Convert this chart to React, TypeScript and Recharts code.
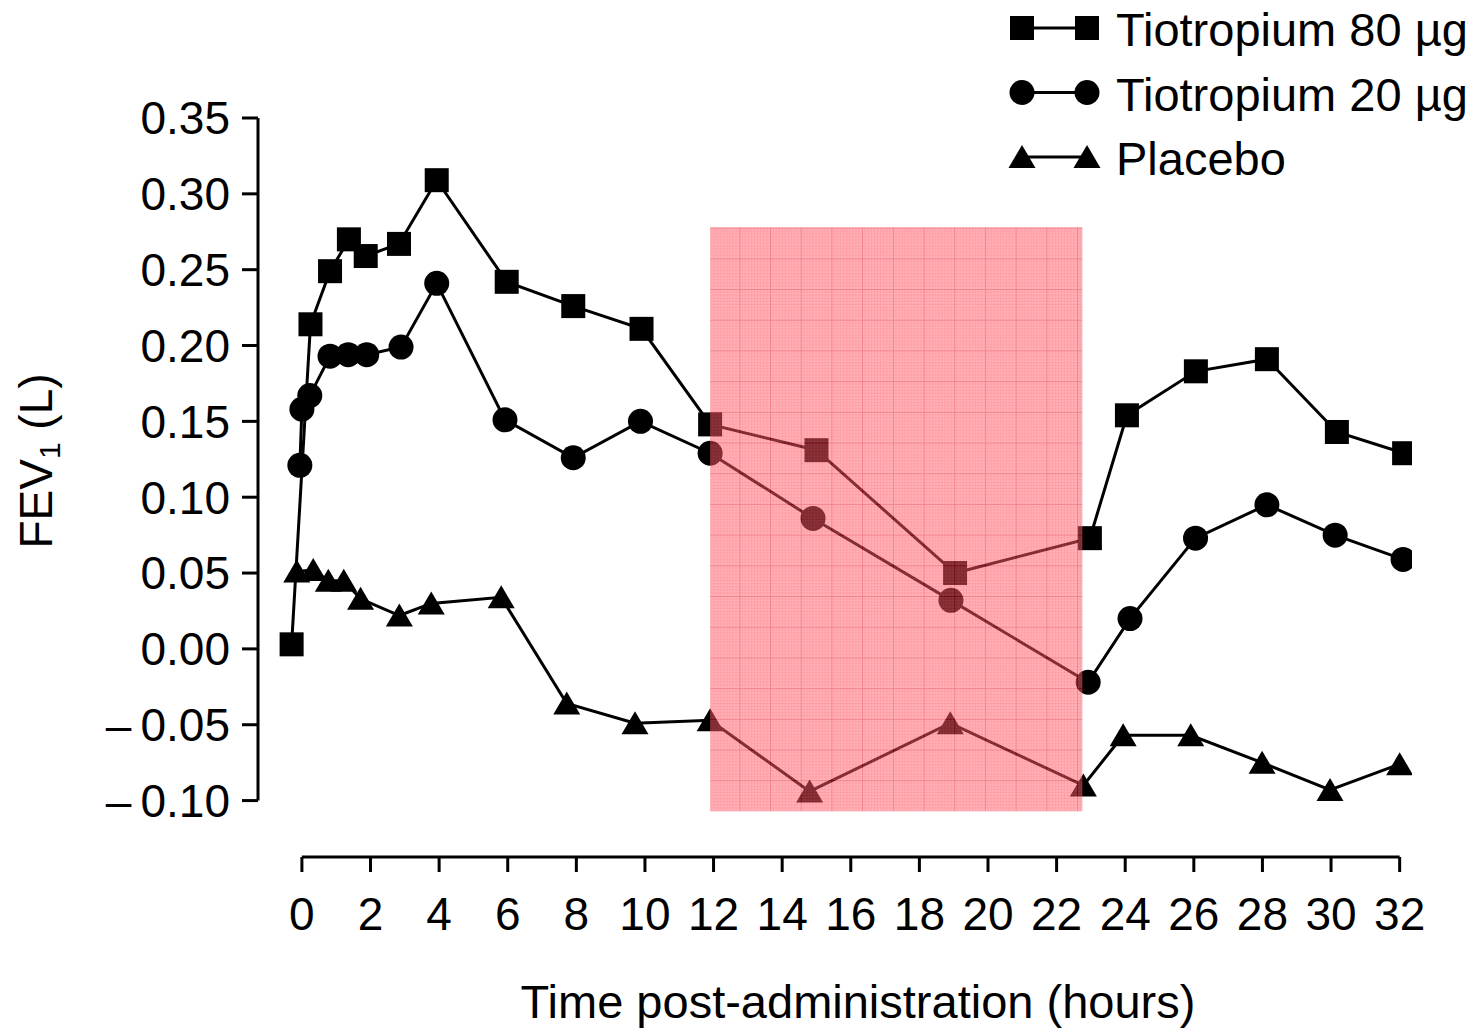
import { Legend, Line, LineChart, ReferenceArea, ReferenceLine, XAxis, YAxis } from "recharts"

// Hours after dosing and FEV1 change (L)
const hours80 = [-0.3, 0.25, 0.82, 1.37, 1.86, 2.83, 3.93, 5.97, 7.91, 9.9, 11.9, 15.0, 19.04, 22.97, 24.05, 26.06, 28.13, 30.17, 32.13]
const fev80 = [0.003, 0.214, 0.249, 0.27, 0.259, 0.267, 0.309, 0.242, 0.226, 0.211, 0.148, 0.131, 0.05, 0.073, 0.154, 0.183, 0.191, 0.143, 0.129]

const hours20 = [-0.06, 0.0, 0.23, 0.82, 1.35, 1.89, 2.89, 3.93, 5.92, 7.91, 9.87, 11.9, 14.9, 18.92, 22.92, 24.14, 26.05, 28.13, 30.12, 32.1]
const fev20 = [0.121, 0.158, 0.167, 0.193, 0.194, 0.194, 0.199, 0.241, 0.151, 0.126, 0.15, 0.129, 0.086, 0.032, -0.022, 0.02, 0.073, 0.095, 0.075, 0.059]

const hoursPlacebo = [-0.15, 0.33, 0.77, 1.22, 1.71, 2.84, 3.77, 5.81, 7.72, 9.71, 11.9, 14.8, 18.9, 22.78, 23.94, 25.91, 27.99, 29.97, 32.0]
const fevPlacebo = [0.051, 0.052, 0.045, 0.045, 0.033, 0.022, 0.03, 0.034, -0.036, -0.049, -0.047, -0.094, -0.049, -0.09, -0.057, -0.057, -0.075, -0.093, -0.076]

const xTicks = [0, 2, 4, 6, 8, 10, 12, 14, 16, 18, 20, 22, 24, 26, 28, 30, 32]
const yTicks = [-0.1, -0.05, 0, 0.05, 0.1, 0.15, 0.2, 0.25, 0.3, 0.35]

// highlighted window (hours, litres)
const shadeHours = [11.9, 22.75]
const shadeFev = [-0.107, 0.278]

const xDomain = [-1.28, 32.36]
const yDomain = [-0.1372, 0.35]

const FONT = "'Liberation Sans', Arial, Helvetica, sans-serif"

type MarkerKind = "square" | "circle" | "triangle"

function toPoints(hours: number[], values: number[]) {
  return hours.map((t, i) => ({ t, v: values[i] }))
}

const series: { name: string; marker: MarkerKind; data: { t: number; v: number }[] }[] = [
  { name: "Tiotropium 80 µg", marker: "square", data: toPoints(hours80, fev80) },
  { name: "Tiotropium 20 µg", marker: "circle", data: toPoints(hours20, fev20) },
  { name: "Placebo", marker: "triangle", data: toPoints(hoursPlacebo, fevPlacebo) },
]

function Marker({ kind, cx, cy }: { kind: MarkerKind; cx: number; cy: number }) {
  if (kind === "square") return <rect x={cx - 12} y={cy - 12} width={24} height={24} fill="#000" />
  if (kind === "circle") return <circle cx={cx} cy={cy} r={12.5} fill="#000" />
  return <polygon points={`${cx},${cy - 12} ${cx + 13.5},${cy + 11} ${cx - 13.5},${cy + 11}`} fill="#000" />
}

// long dash for negatives, like the printed figure
function formatFev(v: number) {
  return v < 0 ? "\u2013\u2009" + Math.abs(v).toFixed(2) : v.toFixed(2)
}

function LegendBox() {
  return (
    <svg width={481} height={190} style={{ display: "block" }}>
      {series.map((s, i) => {
        const cy = 28 + i * 64.5
        return (
          <g key={s.name}>
            <line x1={22} y1={cy} x2={87} y2={cy} stroke="#000" strokeWidth={3} />
            <Marker kind={s.marker} cx={22} cy={cy} />
            <Marker kind={s.marker} cx={87} cy={cy} />
            <text x={116} y={cy + 18} fontFamily={FONT} fontSize={47} fill="#000">
              {s.name}
            </text>
          </g>
        )
      })}
    </svg>
  )
}

function YTitle() {
  return (
    <text
      x={52}
      y={461}
      transform="rotate(-90 52 461)"
      textAnchor="middle"
      fontFamily={FONT}
      fontSize={46}
      fill="#000"
    >
      FEV
      <tspan fontSize={30} dy={8}>1</tspan>
      <tspan dy={-8}> (L)</tspan>
    </text>
  )
}

function XTitle() {
  return (
    <text x={858} y={1018} textAnchor="middle" fontFamily={FONT} fontSize={47} fill="#000">
      Time post-administration (hours)
    </text>
  )
}

const fineLines = Array.from({ length: 10 }, (_, i) => i * 3.07)

export default function App() {
  return (
    <div style={{ width: 1481, height: 1029, background: "#fff" }}>
      <style>{"body{margin:0}"}</style>
      <LineChart width={1481} height={1029} margin={{ top: 118, right: 69, bottom: 22, left: 58 }}>
        <defs>
          <pattern id="shadeGrid" width={30.7} height={30.7} x={739.3} y={258.3} patternUnits="userSpaceOnUse">
            <rect width={30.7} height={30.7} fill="#ff6e7a" />
            {fineLines.map((p) => (
              <g key={p}>
                <line x1={p} y1={0} x2={p} y2={30.7} stroke="#ff3a46" strokeWidth={0.8} />
                <line x1={0} y1={p} x2={30.7} y2={p} stroke="#ff3a46" strokeWidth={0.8} />
              </g>
            ))}
            <line x1={0} y1={0} x2={0} y2={30.7} stroke="#e00012" strokeWidth={1.6} />
            <line x1={0} y1={0} x2={30.7} y2={0} stroke="#e00012" strokeWidth={1.6} />
          </pattern>
        </defs>
        <XAxis
          dataKey="t"
          type="number"
          domain={xDomain}
          ticks={xTicks}
          allowDataOverflow
          axisLine={false}
          tickSize={15}
          tickMargin={25}
          height={150}
          tickLine={{ stroke: "#000", strokeWidth: 3 }}
          tick={{ fill: "#000", fontSize: 46, fontFamily: FONT }}
          interval={0}
          label={{ content: () => <XTitle /> }}
        />
        <YAxis
          dataKey="v"
          type="number"
          domain={yDomain}
          ticks={yTicks}
          allowDataOverflow
          axisLine={false}
          width={200}
          tickSize={16}
          tickMargin={12}
          tickFormatter={formatFev}
          tickLine={{ stroke: "#000", strokeWidth: 3 }}
          tick={{ fill: "#000", fontSize: 46, fontFamily: FONT }}
          interval={0}
          label={{ content: () => <YTitle /> }}
        />
        <ReferenceLine
          segment={[
            { x: xDomain[0], y: yTicks[0] },
            { x: xDomain[0], y: yTicks[yTicks.length - 1] },
          ]}
          stroke="#000"
          strokeWidth={3}
          ifOverflow="visible"
        />
        <ReferenceLine
          segment={[
            { x: xTicks[0], y: yDomain[0] },
            { x: xTicks[xTicks.length - 1], y: yDomain[0] },
          ]}
          stroke="#000"
          strokeWidth={3}
          ifOverflow="visible"
        />
        {series.map((s) => (
          <Line
            key={s.name}
            data={s.data}
            dataKey="v"
            name={s.name}
            type="linear"
            stroke="#000"
            strokeWidth={3}
            isAnimationActive={false}
            activeDot={false}
            dot={(p: any) => <Marker key={`${s.marker}-${p.index}`} kind={s.marker} cx={p.cx} cy={p.cy} />}
          />
        ))}
        <ReferenceArea
          x1={shadeHours[0]}
          x2={shadeHours[1]}
          y1={shadeFev[0]}
          y2={shadeFev[1]}
          fill="url(#shadeGrid)"
          fillOpacity={0.52}
          stroke="none"
          ifOverflow="visible"
          zIndex={1500}
        />
        <Legend
          layout="vertical"
          align="center"
          verticalAlign="middle"
          width={481}
          wrapperStyle={{ top: 0, left: 1000 }}
          content={() => <LegendBox />}
        />
      </LineChart>
    </div>
  )
}
